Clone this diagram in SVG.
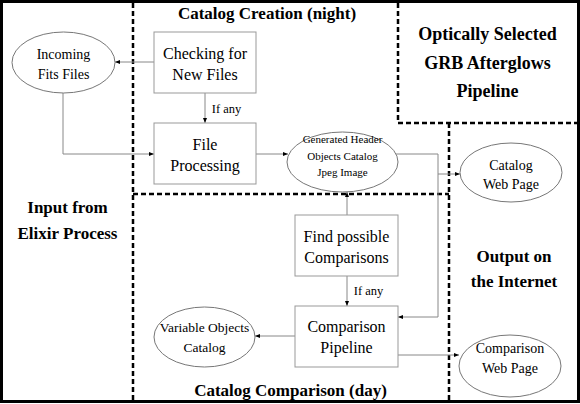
<svg xmlns="http://www.w3.org/2000/svg" width="580" height="404" viewBox="0 0 580 404">
<defs>
<marker id="arr" markerUnits="userSpaceOnUse" markerWidth="6" markerHeight="6" refX="5" refY="3" orient="auto">
<path d="M0,1 L5,3 L0,5 Z" fill="#000"/>
</marker>
<style>
.bx{fill:#fff;stroke:#999;stroke-width:1}
.el{fill:#fff;stroke:#777;stroke-width:1}
.cn{fill:none;stroke:#888;stroke-width:1;marker-end:url(#arr)}
.ds{fill:none;stroke:#000;stroke-width:2.5;stroke-dasharray:5 3}
.t{font-family:"Liberation Serif","Times New Roman",serif;text-anchor:middle;fill:#000}
.b16{font-size:16px}
.e14{font-size:14px}
.ttl{font-size:17px;font-weight:bold}
</style>
</defs>
<rect x="0" y="0" width="580" height="404" fill="#fff"/>
<g id="frames">
<rect x="1.5" y="1.5" width="577" height="400" fill="none" stroke="#000" stroke-width="3"/>
<line class="ds" x1="133" y1="3" x2="133" y2="401"/>
<line class="ds" x1="133" y1="194" x2="449" y2="194"/>
<line class="ds" x1="398" y1="3" x2="398" y2="123"/>
<line class="ds" x1="398" y1="123" x2="577" y2="123"/>
<line class="ds" x1="449" y1="123" x2="449" y2="401"/>
</g>
<g id="titles" class="t ttl">
<text x="267" y="19">Catalog Creation (night)</text>
<text x="290.5" y="396">Catalog Comparison (day)</text>
<text x="487.5" y="40" style="font-size:18px">Optically Selected</text>
<text x="487.5" y="69" style="font-size:18px">GRB Afterglows</text>
<text x="487.5" y="97" style="font-size:18px">Pipeline</text>
<text x="67.5" y="213">Input from</text>
<text x="67.5" y="239">Elixir Process</text>
<text x="514" y="262">Output on</text>
<text x="514" y="287">the Internet</text>
</g>
<g id="connectors">
<polyline class="cn" points="154,62 115,62"/>
<polyline class="cn" points="205,93 205,123"/>
<polyline class="cn" points="63,93 63,154 154,154"/>
<polyline class="cn" points="256,154 288,154"/>
<polyline class="cn" points="396,154 438,154 438,174 460,174"/>
<polyline class="cn" points="438,174 438,317 398,317"/>
<polyline class="cn" points="347,215 347,192"/>
<polyline class="cn" points="347,276 347,306"/>
<polyline class="cn" points="295,336 255,336"/>
<polyline class="cn" points="398,355 459,355"/>
<text class="t" x="226.5" y="113" style="font-size:12.5px">If any</text>
<text class="t" x="368.5" y="295" style="font-size:12.5px">If any</text>
</g>
<g id="incoming">
<ellipse class="el" cx="63.5" cy="62.5" rx="51.5" ry="30.5"/>
<text class="t e14" x="63.5" y="59">Incoming</text>
<text class="t e14" x="63.5" y="79">Fits Files</text>
</g>
<g id="checking">
<rect class="bx" x="154" y="32" width="102" height="61"/>
<text class="t b16" x="205" y="59">Checking for</text>
<text class="t b16" x="205" y="80">New Files</text>
</g>
<g id="fileproc">
<rect class="bx" x="154" y="123" width="102" height="61"/>
<text class="t b16" x="205" y="150">File</text>
<text class="t b16" x="205" y="171">Processing</text>
</g>
<g id="generated">
<ellipse class="el" cx="342.5" cy="162" rx="55.5" ry="30"/>
<text class="t" x="342.5" y="143" style="font-size:11px">Generated Header</text>
<text class="t" x="342.5" y="159.5" style="font-size:11px">Objects Catalog</text>
<text class="t" x="342.5" y="176" style="font-size:11px">Jpeg Image</text>
</g>
<g id="catalogweb">
<ellipse class="el" cx="511" cy="172.5" rx="51" ry="29.5"/>
<text class="t e14" x="511" y="170">Catalog</text>
<text class="t e14" x="511" y="189">Web Page</text>
</g>
<g id="findcomp">
<rect class="bx" x="295" y="215" width="103" height="61"/>
<text class="t b16" x="346.5" y="242">Find possible</text>
<text class="t b16" x="346.5" y="263">Comparisons</text>
</g>
<g id="comppipe">
<rect class="bx" x="295" y="306" width="103" height="61"/>
<text class="t b16" x="346.5" y="332">Comparison</text>
<text class="t b16" x="346.5" y="353">Pipeline</text>
</g>
<g id="variable">
<ellipse class="el" cx="204.5" cy="337" rx="50.5" ry="30"/>
<text class="t" x="204.5" y="332" style="font-size:13.5px">Variable Objects</text>
<text class="t" x="204.5" y="352" style="font-size:13.5px">Catalog</text>
</g>
<g id="compweb">
<ellipse class="el" cx="510" cy="366" rx="51" ry="31"/>
<text class="t e14" x="510" y="353">Comparison</text>
<text class="t e14" x="510" y="373">Web Page</text>
</g>
</svg>
